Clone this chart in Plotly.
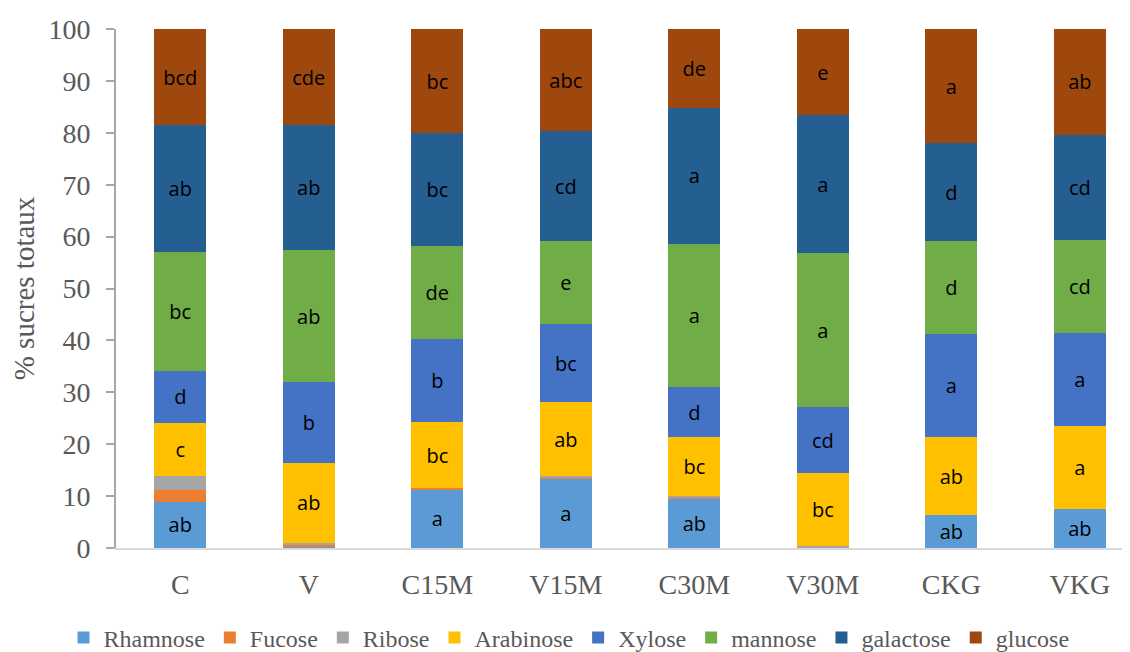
import plotly.graph_objects as go

categories = ["C", "V", "C15M", "V15M", "C30M", "V30M", "CKG", "VKG"]

rhamnose = [8.9, 0.2, 11.3, 13.3, 9.4, 0.0, 6.3, 7.5]
fucose = [2.3, 0.4, 0.2, 0.3, 0.4, 0.0, 0.0, 0.0]
ribose = [2.7, 0.4, 0.0, 0.3, 0.2, 0.3, 0.0, 0.0]
arabinose = [10.2, 15.4, 12.8, 14.2, 11.3, 14.1, 15.0, 16.1]
xylose = [10.0, 15.6, 16.0, 15.0, 9.8, 12.8, 20.0, 17.9]
mannose = [22.9, 25.4, 17.9, 16.0, 27.5, 29.6, 17.8, 17.8]
galactose = [24.5, 24.1, 21.7, 21.2, 26.2, 26.6, 18.9, 20.3]
glucose = [18.5, 18.5, 20.1, 19.7, 15.2, 16.6, 22.0, 20.4]

lab_rhamnose = ["ab", "", "a", "a", "ab", "", "ab", "ab"]
lab_fucose = [""] * 8
lab_ribose = [""] * 8
lab_arabinose = ["c", "ab", "bc", "ab", "bc", "bc", "ab", "a"]
lab_xylose = ["d", "b", "b", "bc", "d", "cd", "a", "a"]
lab_mannose = ["bc", "ab", "de", "e", "a", "a", "d", "cd"]
lab_galactose = ["ab", "ab", "bc", "cd", "a", "a", "d", "cd"]
lab_glucose = ["bcd", "cde", "bc", "abc", "de", "e", "a", "ab"]

series = [
    ("Rhamnose", rhamnose, lab_rhamnose, "#5B9BD5"),
    ("Fucose", fucose, lab_fucose, "#ED7D31"),
    ("Ribose", ribose, lab_ribose, "#A5A5A5"),
    ("Arabinose", arabinose, lab_arabinose, "#FFC000"),
    ("Xylose", xylose, lab_xylose, "#4472C4"),
    ("mannose", mannose, lab_mannose, "#70AD47"),
    ("galactose", galactose, lab_galactose, "#255E91"),
    ("glucose", glucose, lab_glucose, "#9E480E"),
]

fig = go.Figure()
for name, vals, labs, col in series:
    fig.add_trace(go.Bar(
        name=name, x=categories, y=vals, text=labs,
        marker=dict(color=col, line=dict(width=0)),
        textposition="inside", insidetextanchor="middle", textangle=0,
        textfont=dict(family="Open Sans", size=20, color="black"),
        constraintext="none", cliponaxis=False,
    ))

serif = "Liberation Serif"
fig.update_layout(
    barmode="stack",
    bargap=0.595,
    width=1122, height=644,
    margin=dict(l=108, r=0, t=21, b=104, autoexpand=False),
    plot_bgcolor="white", paper_bgcolor="white",
    showlegend=True,
    legend=dict(orientation="h", xref="container", yref="container",
                x=0.5, xanchor="center", y=0.057, yanchor="top",
                bgcolor="rgba(0,0,0,0)",
                font=dict(family=serif, size=24, color="#595959"),
                itemwidth=30, tracegroupgap=0, traceorder="normal"),
    xaxis=dict(range=[-0.5, 7.39], showline=True, linecolor="#D9D9D9", linewidth=2,
               automargin=False,
               ticks="", tickfont=dict(family=serif, size=28, color="#595959"),
               ticklabelstandoff=10, fixedrange=True),
    yaxis=dict(range=[0, 100], dtick=10, showgrid=False, zeroline=False,
               automargin=False,
               showline=True, linecolor="#A6A6A6", linewidth=2,
               ticks="outside", ticklen=8, tickcolor="#A6A6A6", tickwidth=2,
               tickfont=dict(family=serif, size=28, color="#595959"),
               ticklabelstandoff=10,
               title=dict(text="% sucres totaux", font=dict(family=serif, size=29, color="#595959"),
                          standoff=14)),
    yaxis2=dict(range=[0, 100], dtick=10, overlaying="y", side="left", anchor="x",
                showgrid=False, zeroline=False, showline=False, automargin=False,
                ticks="inside", ticklen=8, tickcolor="#A6A6A6", tickwidth=2,
                showticklabels=False, fixedrange=True),
)

fig.write_html("out.html")
